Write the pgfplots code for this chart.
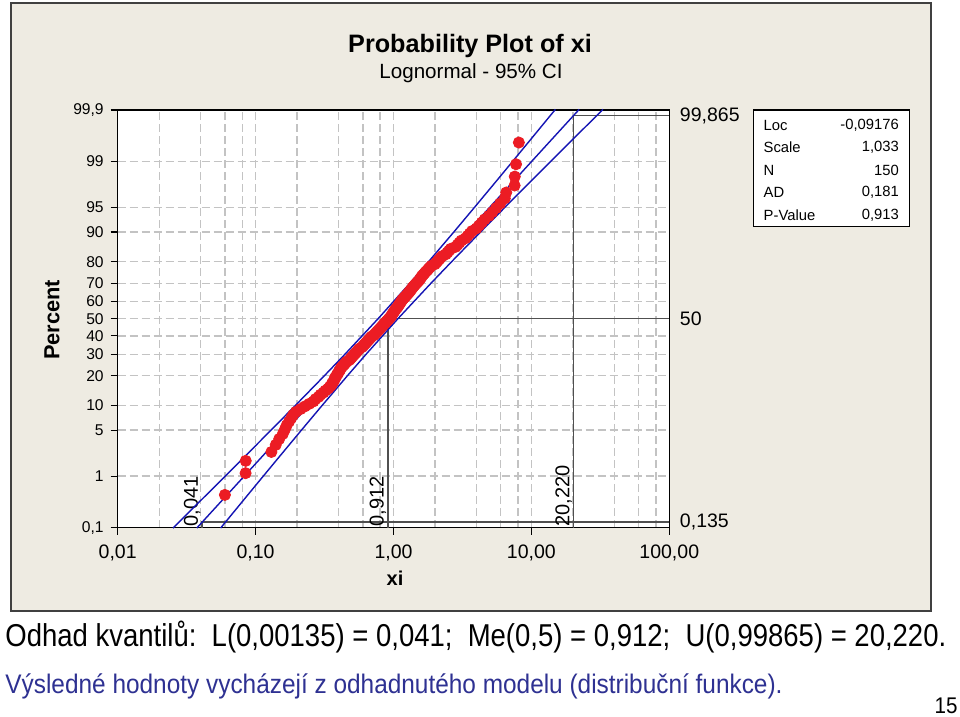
\documentclass[border=0pt]{standalone}
\usepackage{fontspec}
\setmainfont{Liberation Sans}
\usepackage{graphicx}
\usepackage{pgfplots}
\pgfplotsset{compat=1.18}

\definecolor{panel}{RGB}{238,235,226}
\definecolor{dotred}{RGB}{236,28,36}
\definecolor{ciblue}{RGB}{20,20,180}
\definecolor{refgray}{RGB}{80,80,80}
\definecolor{gridgray}{RGB}{195,195,195}
\definecolor{slideblue}{RGB}{46,49,146}

% inverse normal cdf (Abramowitz & Stegun 26.2.23), argument in percent
\pgfmathdeclarefunction{probit}{1}{%
  \begingroup
  \pgfmathparse{#1/100}\let\pp\pgfmathresult
  \pgfmathparse{min(\pp,1-\pp)}\let\qq\pgfmathresult
  \pgfmathparse{sqrt(-2*ln(\qq))}\let\tq\pgfmathresult
  \pgfmathparse{\tq-(2.515517+0.802853*\tq+0.010328*\tq*\tq)/(1+1.432788*\tq+0.189269*\tq*\tq+0.001308*\tq*\tq*\tq)}\let\zz\pgfmathresult
  \pgfmathparse{\pp<0.5 ? -\zz : \zz}%
  \pgfmathsmuggle\pgfmathresult
  \endgroup}

% xi (sorted) and median-rank plotting position in percent
\pgfplotstableread{
x y
0.0599 0.465
0.0846 1.130
0.0848 1.795
0.1302 2.460
0.1400 3.125
0.1483 3.790
0.1576 4.455
0.1632 5.120
0.1681 5.785
0.1749 6.449
0.1813 7.114
0.1872 7.779
0.1959 8.444
0.2116 9.109
0.2277 9.774
0.2448 10.439
0.2629 11.104
0.2722 11.769
0.2863 12.434
0.2960 13.098
0.3105 13.763
0.3206 14.428
0.3358 15.093
0.3457 15.758
0.3555 16.423
0.3592 17.088
0.3689 17.753
0.3727 18.418
0.3758 19.082
0.3851 19.747
0.3882 20.412
0.3976 21.077
0.4003 21.742
0.4096 22.407
0.4125 23.072
0.4216 23.737
0.4312 24.402
0.4406 25.066
0.4498 25.731
0.4597 26.396
0.4771 27.061
0.4871 27.726
0.4972 28.391
0.5071 29.056
0.5172 29.721
0.5274 30.386
0.5378 31.051
0.5486 31.715
0.5594 32.380
0.5700 33.045
0.5904 33.710
0.6022 34.375
0.6134 35.040
0.6250 35.705
0.6360 36.370
0.6480 37.035
0.6602 37.699
0.6719 38.364
0.6838 39.029
0.6966 39.694
0.7209 40.359
0.7338 41.024
0.7468 41.689
0.7600 42.354
0.7734 43.019
0.7873 43.684
0.8012 44.348
0.8153 45.013
0.8290 45.678
0.8436 46.343
0.8586 47.008
0.8738 47.673
0.8884 48.338
0.9042 49.003
0.9200 49.668
0.9354 50.332
0.9519 50.997
0.9638 51.662
0.9750 52.327
0.9872 52.992
0.9998 53.657
1.0125 54.322
1.0242 54.987
1.0387 55.652
1.0572 56.316
1.0725 56.981
1.0859 57.646
1.0995 58.311
1.1135 58.976
1.1277 59.641
1.1418 60.306
1.1575 60.971
1.1779 61.636
1.1988 62.301
1.2213 62.965
1.2443 63.630
1.2663 64.295
1.2901 64.960
1.3099 65.625
1.3315 66.290
1.3519 66.955
1.3726 67.620
1.3951 68.285
1.4230 68.949
1.4512 69.614
1.4799 70.279
1.5091 70.944
1.5393 71.609
1.5631 72.274
1.5878 72.939
1.6104 73.604
1.6456 74.269
1.6800 74.934
1.7168 75.598
1.7560 76.263
1.7947 76.928
1.8378 77.593
1.8802 78.258
1.9907 78.923
2.0384 79.588
2.0897 80.253
2.1418 80.918
2.1958 81.582
2.2556 82.247
2.3952 82.912
2.4606 83.577
2.5302 84.242
2.6046 84.907
2.8224 85.572
2.9141 86.237
3.0055 86.902
3.1069 87.566
3.3234 88.231
3.4417 88.896
3.5727 89.561
3.7154 90.226
3.9994 90.891
4.1772 91.556
4.3709 92.221
4.5881 92.886
4.9183 93.551
5.2058 94.215
5.5455 94.880
5.9357 95.545
6.4151 96.210
6.5705 96.875
7.556 97.540
7.577 98.205
7.739 98.870
8.113 99.535
}\datatable

% fitted lognormal percentiles and 95% confidence bounds
\pgfplotstableread{
p fit lo hi
0.1 0.03748 0.02519 0.05576
0.5 0.06376 0.04523 0.08989
1 0.08251 0.06002 0.11343
2 0.10935 0.08170 0.14635
5 0.16680 0.12944 0.21494
10 0.24277 0.19422 0.30345
20 0.38246 0.31553 0.46359
30 0.53075 0.44496 0.63308
50 0.91232 0.77331 1.07632
70 1.56825 1.31477 1.87061
80 2.17628 1.79543 2.63791
90 3.42852 2.74290 4.28544
95 4.98993 3.87231 6.43011
98 7.61191 5.68741 10.1876
99 10.0876 7.33812 13.8674
99.5 13.0533 9.25885 18.4030
99.9 22.2072 14.9267 33.0388
}\citable

\begin{document}
\begin{tikzpicture}
\begin{scope}[x=0.5pt,y=-0.5pt]
  \fill[white] (0,0) rectangle (960,717);
  \filldraw[fill=panel, draw=black!75, line width=0.75pt] (11,3) rectangle (931,611);
\end{scope}

\begin{axis}[
  at={(58.85pt,-263.85pt)}, anchor=south west,
  scale only axis, width=275.8pt, height=208.85pt,
  xmode=log, xmin=0.01, xmax=100,
  ymin=0.1, ymax=99.9,
  y coord trafo/.code={\pgfmathparse{probit(#1)}},
  clip=false,
  axis background/.style={fill=white},
  axis line style={black, line width=0.75pt},
  xtick={0.01,0.1,1,10,100},
  xticklabels={{0,01},{0,10},{1,00},{10,00},{100,00}},
  minor xtick={0.02,0.04,0.06,0.08,0.2,0.4,0.6,0.8,2,4,6,8,20,40,60,80},
  ytick={0.1,1,5,10,20,30,40,50,60,70,80,90,95,99,99.9},
  yticklabels={{0,1},1,5,10,20,30,40,50,60,70,80,90,95,99,{99,9}},
  tick pos=left, tick align=outside,
  major tick length=3.5pt, minor tick length=0pt,
  tick style={black, line width=0.6pt},
  grid=both,
  major grid style={gridgray, dash pattern=on 4pt off 2pt, line width=0.7pt},
  minor grid style={gridgray, dash pattern=on 4pt off 2pt, line width=0.7pt},
  xticklabel style={font=\fontsize{9.75}{10}\selectfont, yshift=-1.5pt},
  yticklabel style={font=\fontsize{7.8}{8}\selectfont},
]
% reference lines for the 0.135 %, 50 % and 99.865 % quantiles
\addplot[refgray, line width=0.7pt] coordinates {(0.041,0.1) (0.041,0.135) (100,0.135)}
  node[pos=0, rotate=90, anchor=south west, inner sep=0.5pt, black, font=\fontsize{10}{10}\selectfont] {0,041}
  node[pos=1, anchor=west, inner sep=0pt, xshift=5pt, black, font=\fontsize{9.75}{10}\selectfont] {0,135};
\addplot[refgray, line width=0.7pt] coordinates {(0.912,0.1) (0.912,50) (100,50)}
  node[pos=0, rotate=90, anchor=south west, inner sep=0.5pt, black, font=\fontsize{10}{10}\selectfont] {0,912}
  node[pos=1, anchor=west, inner sep=0pt, xshift=5pt, black, font=\fontsize{9.75}{10}\selectfont] {50};
\addplot[refgray, line width=0.7pt] coordinates {(20.22,0.1) (20.22,99.865) (100,99.865)}
  node[pos=0, rotate=90, anchor=south west, inner sep=0.5pt, black, font=\fontsize{10}{10}\selectfont] {20,220}
  node[pos=1, anchor=west, inner sep=0pt, xshift=5pt, black, font=\fontsize{9.75}{10}\selectfont] {99,865};

\addplot[ciblue, line width=0.7pt] table[x=lo, y=p] {\citable};
\addplot[ciblue, line width=0.7pt] table[x=fit, y=p] {\citable};
\addplot[ciblue, line width=0.7pt] table[x=hi, y=p] {\citable};

\addplot[only marks, mark=*, mark size=2.8pt, mark options={draw=dotred, fill=dotred}] table[x=x, y=y] {\datatable};
\end{axis}

\begin{scope}[x=0.5pt,y=-0.5pt]
  \node[font=\bfseries\fontsize{12.6}{14}\selectfont] at (470,46) {Probability Plot of xi};
  \node[font=\fontsize{10.3}{12}\selectfont] at (471,73) {Lognormal - 95\% CI};
  \node[font=\bfseries\fontsize{10.9}{12}\selectfont, rotate=90] at (52,320) {Percent};
  \node[font=\bfseries\fontsize{10}{12}\selectfont] at (395,578) {xi};
  % statistics box
  \filldraw[fill=white, draw=black, line width=0.6pt] (753.3,110) rectangle (909.3,226.7);
  \begin{scope}[every node/.style={font=\fontsize{7.4}{8}\selectfont, inner sep=0pt}]
    \node[anchor=west] at (763.3,125) {Loc};       \node[anchor=east] at (899.3,125) {-0,09176};
    \node[anchor=west] at (763.3,147.5) {Scale};   \node[anchor=east] at (899.3,147.5) {1,033};
    \node[anchor=west] at (763.3,170) {N};         \node[anchor=east] at (899.3,170) {150};
    \node[anchor=west] at (763.3,192.5) {AD};      \node[anchor=east] at (899.3,192.5) {0,181};
    \node[anchor=west] at (763.3,215) {P-Value};   \node[anchor=east] at (899.3,215) {0,913};
  \end{scope}
  % slide text
  \node[anchor=west, inner sep=0pt, font=\fontsize{13.75}{15}\selectfont] at (5,637)
    {\scalebox{1}[1.15]{Odhad kvantilů:\ \ L(0,00135) = 0,041;\ \ Me(0,5) = 0,912;\ \ U(0,99865) = 20,220.}};
  \node[anchor=west, inner sep=0pt, text=slideblue, font=\fontsize{12.2}{14}\selectfont] at (5,686)
    {\scalebox{1}[1.1]{Výsledné hodnoty vycházejí z odhadnutého modelu (distribuční funkce).}};
  \node[anchor=east, inner sep=0pt, font=\fontsize{10.3}{12}\selectfont] at (958,706) {\scalebox{1}[1.1]{15}};
\end{scope}
\pgfresetboundingbox
\path[use as bounding box] (0,0) rectangle (480pt,-358.5pt);
\end{tikzpicture}
\end{document}
